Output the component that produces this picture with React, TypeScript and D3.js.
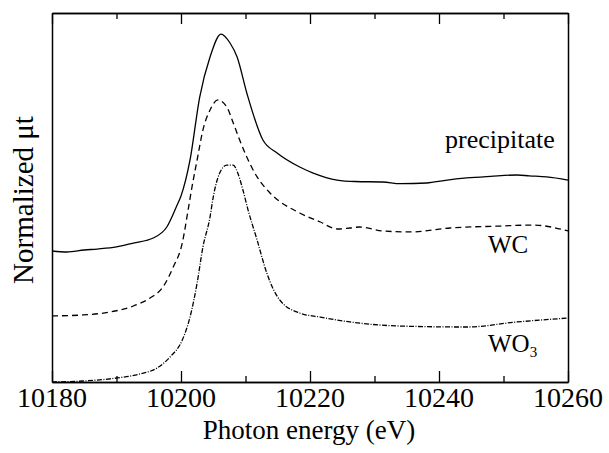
import React, { useEffect, useRef } from "react";
import * as d3 from "d3";

const energyPrecip = [10180, 10182.3, 10185, 10187, 10190, 10192.6, 10195.7, 10197.8, 10199.4, 10200, 10201.4, 10202.9, 10204.5, 10206.2, 10207.6, 10208.7, 10210.2, 10212.7, 10214.9, 10218.4, 10220.5, 10224.2, 10227, 10231.3, 10234, 10238.1, 10241, 10244.3, 10248, 10252.1, 10254, 10256.7, 10260];
const valuePrecip = [1.065, 1.057, 1.073, 1.081, 1.098, 1.13, 1.171, 1.26, 1.439, 1.512, 1.805, 2.317, 2.642, 2.829, 2.756, 2.642, 2.35, 1.967, 1.862, 1.748, 1.699, 1.642, 1.63, 1.626, 1.612, 1.618, 1.64, 1.659, 1.672, 1.683, 1.676, 1.667, 1.642];

const energyWC = [10180, 10184.8, 10189, 10192.6, 10195.2, 10197.2, 10198.8, 10200.2, 10201.1, 10201.7, 10202.5, 10203.4, 10204.5, 10205.7, 10207.1, 10208.1, 10209.1, 10210.2, 10211.8, 10213.8, 10218.4, 10221.6, 10224.2, 10226.2, 10227.7, 10231.3, 10235.5, 10241.7, 10249.5, 10254.6, 10260];
const valueWC = [0.537, 0.545, 0.569, 0.618, 0.683, 0.772, 0.935, 1.13, 1.398, 1.585, 1.805, 2.049, 2.211, 2.293, 2.236, 2.106, 1.967, 1.829, 1.667, 1.537, 1.374, 1.301, 1.244, 1.252, 1.26, 1.228, 1.22, 1.252, 1.268, 1.276, 1.228];

const energyWO3 = [10180, 10184.8, 10190.1, 10193.6, 10196.3, 10198.3, 10200.2, 10201.4, 10202.5, 10203.4, 10204.5, 10205.0, 10206.0, 10207.1, 10208.1, 10208.8, 10209.6, 10210.4, 10211.8, 10213.3, 10215.3, 10218.4, 10221.6, 10226.2, 10233.9, 10244.3, 10252.1, 10260];
const valueWO3 = [0, 0.008, 0.033, 0.065, 0.114, 0.203, 0.341, 0.528, 0.805, 1.098, 1.341, 1.504, 1.699, 1.764, 1.764, 1.699, 1.561, 1.398, 1.154, 0.886, 0.667, 0.561, 0.528, 0.488, 0.455, 0.447, 0.488, 0.52];

const majorTicks = [10180, 10200, 10220, 10240, 10260];
const minorTicks = [10190, 10210, 10230, 10250];

const W = 609, H = 453;
const L = 52, R = 568, T = 13, B = 382;
const FONT = "'Liberation Serif', 'DejaVu Serif', serif";

export default function App() {
  const ref = useRef<SVGSVGElement | null>(null);

  useEffect(() => {
    const svg = d3.select(ref.current);
    svg.selectAll("*").remove();
    const x = d3.scaleLinear().domain([10180, 10260]).range([L, R]);
    const y = d3.scaleLinear().domain([0, 3]).range([B, T]);

    const axB = d3.axisBottom(x).tickValues(majorTicks).tickSize(-11).tickSizeOuter(0).tickFormat(() => "");
    const axBm = d3.axisBottom(x).tickValues(minorTicks).tickSize(-6).tickSizeOuter(0).tickFormat(() => "");
    const axT = d3.axisTop(x).tickValues(majorTicks).tickSize(-11).tickSizeOuter(0).tickFormat(() => "");
    const axTm = d3.axisTop(x).tickValues(minorTicks).tickSize(-6).tickSizeOuter(0).tickFormat(() => "");
    const axL = d3.axisLeft(y).tickValues([]).tickSizeOuter(0);
    const axR = d3.axisRight(y).tickValues([]).tickSizeOuter(0);

    const g = svg.append("g");
    g.append("g").attr("transform", `translate(0,${B})`).call(axB);
    g.append("g").attr("transform", `translate(0,${B})`).call(axBm);
    g.append("g").attr("transform", `translate(0,${T})`).call(axT);
    g.append("g").attr("transform", `translate(0,${T})`).call(axTm);
    g.append("g").attr("transform", `translate(${L},0)`).call(axL);
    g.append("g").attr("transform", `translate(${R},0)`).call(axR);
    g.selectAll(".domain").attr("stroke", "#000").attr("stroke-width", 1.5);
    g.selectAll(".tick line").attr("stroke", "#000").attr("stroke-width", 1.3);

    const line = d3
      .line<[number, number]>()
      .x((d) => x(d[0]))
      .y((d) => y(d[1]))
      .curve(d3.curveMonotoneX);
    const zip = (a: number[], b: number[]) => a.map((e, i) => [e, b[i]] as [number, number]);
    const series = [
      { d: zip(energyPrecip, valuePrecip), dash: null as string | null },
      { d: zip(energyWC, valueWC), dash: "6,4" },
      { d: zip(energyWO3, valueWO3), dash: "5,1.5,1,1.5" },
    ];
    series.forEach((s) => {
      svg
        .append("path")
        .attr("d", line(s.d))
        .attr("fill", "none")
        .attr("stroke", "#000")
        .attr("stroke-width", 1.3)
        .attr("stroke-dasharray", s.dash);
    });

    const txt = svg.append("g").attr("font-family", FONT).attr("fill", "#000");
    majorTicks.forEach((t) => {
      txt.append("text").attr("x", x(t)).attr("y", 407).attr("text-anchor", "middle").attr("font-size", 28).text(String(t));
    });
    txt.append("text").attr("x", 309).attr("y", 439).attr("text-anchor", "middle").attr("font-size", 27).text("Photon energy (eV)");
    txt
      .append("text")
      .attr("transform", "translate(33,200) rotate(-90)")
      .attr("text-anchor", "middle")
      .attr("font-size", 29)
      .text("Normalized μt");
    txt.append("text").attr("x", 445).attr("y", 148).attr("font-size", 26).text("precipitate");
    txt.append("text").attr("x", 488).attr("y", 253).attr("font-size", 25).text("WC");
    const wo = txt.append("text").attr("x", 488).attr("y", 352).attr("font-size", 25);
    wo.append("tspan").text("WO");
    wo.append("tspan").attr("font-size", 15).attr("dy", 5).text("3");
  }, []);

  return (
    <svg
      ref={ref}
      width={W}
      height={H}
      style={{ display: "block", position: "absolute", left: 0, top: 0, background: "#fff" }}
    />
  );
}
